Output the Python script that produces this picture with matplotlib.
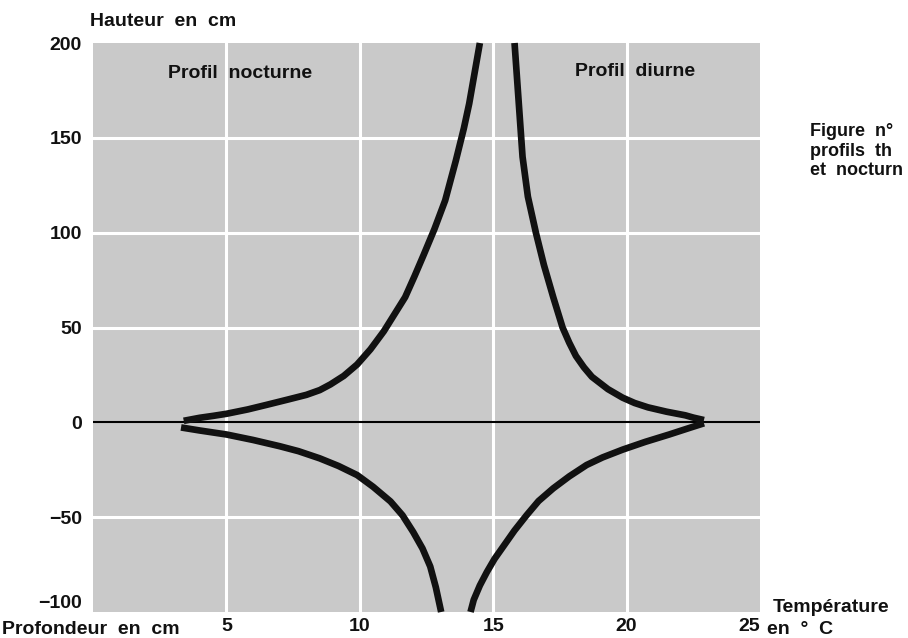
import matplotlib.pyplot as plt

# temperature profiles (x = deg C, y = cm)
night_up_x = [3.4, 4.0, 4.5, 5.0, 5.8, 6.5, 7.3, 8.0, 8.5, 8.9, 9.4, 9.9, 10.4, 10.9,
              11.3, 11.7, 12.05, 12.4, 12.8, 13.2, 13.6, 13.9, 14.1, 14.3, 14.5]
night_up_y = [0.8, 2.4, 3.4, 4.5, 6.8, 9.2, 12, 14.5, 17, 20, 24.5, 30.5, 38.5, 48,
              57, 66, 77, 88.5, 102, 117, 138, 155, 168, 184, 200]

night_low_x = [3.3, 4.0, 5.0, 6.0, 7.0, 7.7, 8.5, 9.2, 9.9, 10.5, 11.15, 11.6, 12.0,
               12.35, 12.64, 12.85, 13.05]
night_low_y = [-2.7, -4.3, -6.4, -9.3, -12.6, -15.2, -19, -23, -27.8, -34, -41.7, -49,
               -57.8, -66.5, -76, -87, -100]

day_up_x = [22.9, 22.5, 22.2, 21.5, 20.8, 20.3, 19.85, 19.3, 18.7, 18.4, 18.1, 17.85,
            17.6, 17.25, 16.9, 16.6, 16.3, 16.1, 16.0, 15.9, 15.8]
day_up_y = [1.2, 2.5, 3.7, 5.6, 7.9, 10.2, 13, 17.5, 24, 29, 35, 42,
            50, 66, 83, 100, 119, 140, 160, 180, 200]

day_low_x = [22.9, 22.3, 21.6, 20.7, 19.85, 19.1, 18.5, 17.85, 17.25, 16.7, 16.25, 15.8,
             15.4, 15.05, 14.76, 14.5, 14.27, 14.15]
day_low_y = [-0.5, -3.2, -6.4, -10.3, -14.4, -18.5, -22.5, -28.5, -34.8, -41.5, -49, -57,
             -65, -72, -79, -86, -93.6, -100]

x_ticks = [5, 10, 15, 20, 25]
y_ticks = [200, 150, 100, 50, 0, -50, -100]
y_labels = ["200", "150", "100", "50", "0", "\u221250", "\u2212100"]

plt.rcParams['font.family'] = ['Liberation Sans', 'DejaVu Sans']
plt.rcParams['font.weight'] = 'bold'
ink = '#111111'

fig = plt.figure(figsize=(9.08, 6.38), dpi=100)
ax = fig.add_axes([93/908, 1-612/638, (760-93)/908, (612-43)/638])
ax.set_facecolor('#c9c9c9')
ax.set_xlim(0, 25)
ax.set_ylim(-100, 200)

# white grid (edges left clean)
for xv in x_ticks[:-1]:
    ax.axvline(xv, color='white', lw=2.2, zorder=1)
for yv in [150, 100, 50, -50]:
    ax.axhline(yv, color='white', lw=2.2, zorder=1)
ax.axhline(0, color='black', lw=1.5, zorder=2)

for xs, ys in [(night_up_x, night_up_y), (night_low_x, night_low_y),
               (day_up_x, day_up_y), (day_low_x, day_low_y)]:
    ax.plot(xs, ys, color=ink, lw=4.8, solid_capstyle='butt',
            solid_joinstyle='round', zorder=3, clip_on=False)

for s in ax.spines.values():
    s.set_visible(False)
ax.set_xticks(x_ticks)
ax.set_yticks(y_ticks)
ax.set_yticklabels(y_labels)
ax.tick_params(length=0, labelsize=14, colors=ink)
ax.tick_params(axis='y', pad=8)
ax.tick_params(axis='x', pad=4)
ax.get_yticklabels()[-1].set_va('bottom')
ax.get_xticklabels()[-1].set_ha('right')

ax.text(5.5, 184, "Profil  nocturne", ha='center', va='center', fontsize=14, color=ink)
ax.text(20.3, 185, "Profil  diurne", ha='center', va='center', fontsize=14, color=ink)

fig.text(90/908, 1-22/638, "Hauteur  en  cm", ha='left', va='center', fontsize=14, color=ink)
fig.text(2/908, 1-629/638, "Profondeur  en  cm", ha='left', va='center', fontsize=14, color=ink)
fig.text(773/908, 1-607/638, "Température", ha='left', va='center', fontsize=14, color=ink)
fig.text(767/908, 1-629/638, "en  \u00b0  C", ha='left', va='center', fontsize=14, color=ink)
fig.text(810/908, 1-151/638, "Figure  n\u00b0\nprofils  th\net  nocturn", ha='left', va='center',
         fontsize=13, color=ink, linespacing=1.2)

fig.savefig("out.png", dpi=100)
